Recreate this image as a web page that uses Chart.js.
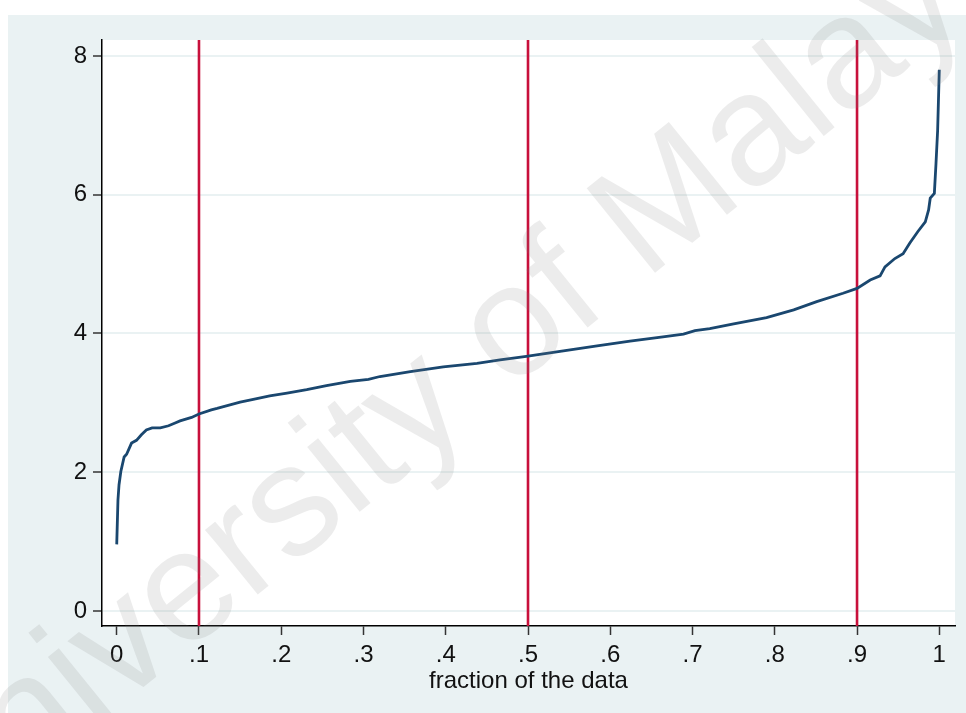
<!DOCTYPE html>
<html>
<head>
<meta charset="utf-8">
<script src="https://cdn.jsdelivr.net/npm/chart.js@4.4.1/dist/chart.umd.min.js"></script>
<style>
  html, body { margin: 0; padding: 0; background: #ffffff; }
  canvas { display: block; }
</style>
</head>
<body>
<canvas id="c" width="966" height="713"></canvas>
<script>
// Sorted values plotted against the fraction of the data (quantile plot)
const fractions = [
  0.000, 0.0015, 0.0028, 0.005, 0.009, 0.012, 0.018, 0.024, 0.030, 0.036,
  0.043, 0.053, 0.063, 0.071, 0.077, 0.091, 0.100, 0.115, 0.122, 0.150,
  0.166, 0.186, 0.207, 0.231, 0.255, 0.284, 0.306, 0.320, 0.357, 0.397,
  0.438, 0.466, 0.498, 0.543, 0.584, 0.624, 0.664, 0.689, 0.703, 0.721,
  0.750, 0.790, 0.823, 0.851, 0.883, 0.900, 0.916, 0.928, 0.934, 0.946,
  0.956, 0.964, 0.974, 0.983, 0.987, 0.989, 0.994, 0.996, 0.998, 1.000
];
const quantileValues = [
  0.96, 1.60, 1.82, 2.01, 2.22, 2.26, 2.42, 2.46, 2.54, 2.61,
  2.64, 2.64, 2.67, 2.71, 2.74, 2.79, 2.84, 2.90, 2.92, 3.01,
  3.05, 3.10, 3.14, 3.19, 3.25, 3.31, 3.34, 3.38, 3.45, 3.52,
  3.57, 3.62, 3.67, 3.75, 3.82, 3.89, 3.95, 3.99, 4.04, 4.07,
  4.14, 4.23, 4.34, 4.46, 4.58, 4.65, 4.77, 4.83, 4.96, 5.08,
  5.15, 5.30, 5.47, 5.61, 5.78, 5.95, 6.02, 6.45, 6.93, 7.80
];
// Reference lines at the 10th, 50th and 90th percentiles
const markerFractions = [0.1, 0.5, 0.9];

const xTicks = [0, 0.1, 0.2, 0.3, 0.4, 0.5, 0.6, 0.7, 0.8, 0.9, 1];
const xTickLabels = ['0', '.1', '.2', '.3', '.4', '.5', '.6', '.7', '.8', '.9', '1'];
const yTicks = [0, 2, 4, 6, 8];
const xTitle = 'fraction of the data';
const watermarkText = 'University of Malaya';

const X_MIN = -0.0179, X_MAX = 1.0191;
const Y_MIN = -0.216, Y_MAX = 8.23;

const FONT = 'Liberation Sans, Arial, Helvetica, sans-serif';
const NAVY = '#1A476F';
const CRIMSON = '#C8103B';

const curve = fractions.map((f, i) => ({ x: f, y: quantileValues[i] }));

const markerSets = markerFractions.map(f => ({
  data: [{ x: f, y: Y_MIN }, { x: f, y: Y_MAX }],
  borderColor: CRIMSON,
  borderWidth: 2.6,
  pointRadius: 0,
  fill: false,
  tension: 0,
  order: 2
}));

const backdrop = {
  id: 'backdrop',
  beforeDraw(chart) {
    const { ctx, chartArea: a } = chart;
    ctx.save();
    ctx.fillStyle = '#ffffff';
    ctx.fillRect(0, 0, chart.width, chart.height);
    ctx.fillStyle = '#EAF2F3';
    ctx.fillRect(8, 15, chart.width - 8, chart.height - 15);
    ctx.fillStyle = '#ffffff';
    ctx.fillRect(a.left, a.top, a.right - a.left, a.bottom - a.top);
    ctx.restore();
  }
};

const watermark = {
  id: 'watermark',
  afterDraw(chart) {
    const { ctx } = chart;
    ctx.save();
    ctx.translate(488, 408);
    ctx.rotate(-39 * Math.PI / 180);
    ctx.font = '158px ' + FONT;
    ctx.textAlign = 'center';
    ctx.textBaseline = 'alphabetic';
    ctx.fillStyle = 'rgba(128,128,128,0.15)';
    ctx.fillText(watermarkText, 0, 0);
    ctx.restore();
  }
};

new Chart(document.getElementById('c'), {
  type: 'line',
  data: {
    datasets: [
      {
        data: curve,
        borderColor: NAVY,
        borderWidth: 2.8,
        pointRadius: 0,
        fill: false,
        tension: 0,
        order: 1
      },
      ...markerSets
    ]
  },
  plugins: [backdrop, watermark],
  options: {
    responsive: false,
    devicePixelRatio: 1,
    animation: false,
    layout: { padding: { top: 40, right: 11, left: 0, bottom: 0 } },
    plugins: { legend: { display: false }, tooltip: { enabled: false } },
    scales: {
      x: {
        type: 'linear',
        min: X_MIN,
        max: X_MAX,
        afterBuildTicks(s) { s.ticks = xTicks.map(v => ({ value: v })); },
        afterFit(s) { s.height = 87; },
        ticks: {
          autoSkip: false,
          maxRotation: 0,
          padding: 6,
          color: '#111',
          font: { family: FONT, size: 24 },
          callback: (v) => xTickLabels[xTicks.indexOf(v)] ?? ''
        },
        grid: {
          drawOnChartArea: false,
          drawTicks: true,
          tickLength: 9,
          tickColor: '#333',
          tickWidth: 1.5
        },
        border: { display: true, color: '#000', width: 1.5 },
        title: {
          display: true,
          text: xTitle,
          color: '#111',
          font: { family: FONT, size: 24 },
          padding: { top: 0, bottom: 17 }
        }
      },
      y: {
        type: 'linear',
        min: Y_MIN,
        max: Y_MAX,
        afterBuildTicks(s) { s.ticks = yTicks.map(v => ({ value: v })); },
        afterFit(s) { s.width = 102; },
        ticks: {
          padding: 6,
          color: '#111',
          font: { family: FONT, size: 24 },
          callback: (v) => String(v)
        },
        grid: {
          drawOnChartArea: true,
          color: '#EAF2F3',
          lineWidth: 2,
          drawTicks: true,
          tickLength: 9,
          tickColor: '#333',
          tickWidth: 1.5
        },
        border: { display: true, color: '#000', width: 1.5 }
      }
    }
  }
});
</script>
</body>
</html>
